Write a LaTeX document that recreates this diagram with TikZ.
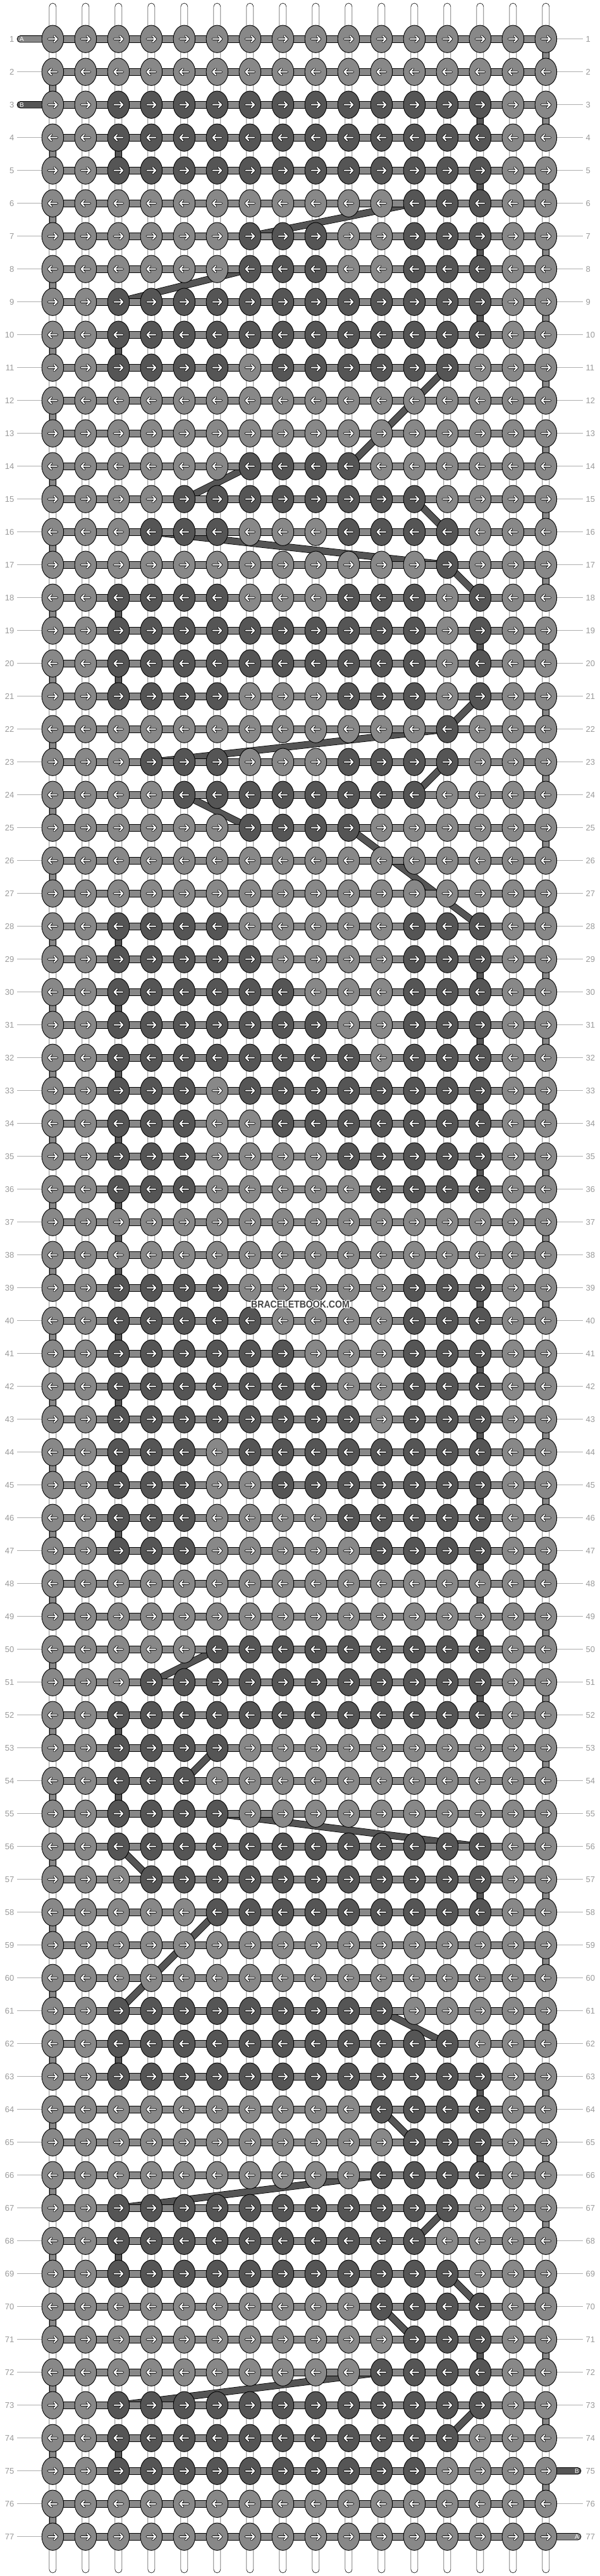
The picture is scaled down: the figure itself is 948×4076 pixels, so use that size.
\documentclass[tikz,border=0pt]{standalone}
\usepackage{fontspec}
\setmainfont{Liberation Sans}
\usetikzlibrary{shapes.geometric}
\definecolor{kl}{HTML}{888888}
\definecolor{kd}{HTML}{555555}
\definecolor{labc}{HTML}{9A9A9A}
\definecolor{wmc}{HTML}{444444}
\begin{document}
\begin{tikzpicture}[x=1pt,y=-1pt,
  vstring/.style={draw=black, line width=0.6pt, fill=white, rounded corners=5.5pt},
  rowbar/.style={draw=black, line width=0.8pt, fill=kl},
  knot/.style={ellipse, draw=black, line width=0.9pt, minimum width=34.5pt, minimum height=43.3pt, inner sep=0pt},
  acon/.style={draw=black, line width=0.8pt, double=kl, double distance=9.6pt},
  bcon/.style={draw=black, line width=0.8pt, double=kd, double distance=9.6pt},
  arrout/.style={draw=black, line width=3.8pt, line cap=round, line join=round},
  arrin/.style={draw=white, line width=2pt, line cap=round, line join=round},
  rowlab/.style={text=labc, font=\fontsize{13}{13}\selectfont, inner sep=0pt},
  labline/.style={draw=labc!80, line width=1pt},
  taillet/.style={text=white, font=\fontsize{10}{10}\selectfont, inner sep=0pt},
  wm/.style={font=\bfseries\fontsize{16}{16}\selectfont, inner sep=0pt}]
\fill[white] (0,0) rectangle (948,4076);
\useasboundingbox (0,0) rectangle (948,4076);
% grid coordinates
\foreach \r in {1,...,77}{\foreach \c in {1,...,16}{\coordinate (p-\r-\c) at ({31.4+52*\c},{9.7+52*\r});}}
% dark knots
\foreach \r/\a/\b in {3/3/14, 4/3/14, 5/3/14, 6/12/14, 7/7/9, 7/12/14, 8/7/9, 8/12/14, 9/3/14, 10/3/14, 11/3/6, 11/8/13, 14/7/10, 15/5/12, 16/4/6, 16/10/13, 17/13/13, 18/3/6, 18/10/12, 18/14/14, 19/3/12, 19/14/14, 20/3/12, 20/14/14, 21/3/6, 21/10/12, 21/14/14, 22/13/13, 23/4/6, 23/10/13, 24/5/12, 25/7/10, 28/3/6, 28/12/14, 29/3/7, 29/12/14, 30/3/8, 30/12/14, 31/3/9, 31/12/14, 32/3/10, 32/12/14, 33/3/5, 33/7/14, 34/3/5, 34/8/14, 35/3/5, 35/10/14, 36/3/5, 36/11/14, 39/3/6, 39/12/14, 40/3/7, 40/12/14, 41/3/8, 41/12/14, 42/3/9, 42/12/14, 43/3/10, 43/12/14, 44/3/5, 44/7/14, 45/3/5, 45/8/14, 46/3/5, 46/10/14, 47/3/5, 47/11/14, 50/6/14, 51/4/14, 52/3/14, 53/3/6, 54/3/5, 55/3/6, 56/3/14, 57/4/14, 58/6/14, 61/3/11, 62/3/13, 63/3/14, 64/11/14, 65/12/14, 66/11/14, 67/3/13, 68/3/12, 69/3/13, 70/11/14, 71/12/14, 72/11/14, 73/3/14, 74/3/13, 75/3/12}{
  \foreach \c in {\a,...,\b}{\expandafter\gdef\csname dk-\r-\c\endcsname{}}}
% vertical strings
\foreach \c in {1,...,16}{\draw[vstring] ({31.4+52*\c-5.5},5) rectangle ({31.4+52*\c+5.5},4071);}
% string A connectors at the edges
\foreach \r in {1,...,76}{
  \ifodd\r\relax\def\cc{16}\else\def\cc{1}\fi
  \pgfmathtruncatemacro\rn{\r+1}
  \draw[acon] (p-\r-\cc) -- (p-\rn-\cc);}
% string B connectors
\foreach \ra/\ca/\rb/\cb in {3/14/4/14, 4/3/5/3, 5/14/6/14, 6/12/7/7, 7/14/8/14, 8/7/9/3, 9/14/10/14, 10/3/11/3, 11/13/14/10, 14/7/15/5, 15/12/16/13, 16/4/17/13, 17/13/18/14, 18/3/19/3, 19/14/20/14, 20/3/21/3, 21/14/22/13, 22/13/23/4, 23/13/24/12, 24/5/25/7, 25/10/28/14, 28/3/29/3, 29/14/30/14, 30/3/31/3, 31/14/32/14, 32/3/33/3, 33/14/34/14, 34/3/35/3, 35/14/36/14, 36/3/39/3, 39/14/40/14, 40/3/41/3, 41/14/42/14, 42/3/43/3, 43/14/44/14, 44/3/45/3, 45/14/46/14, 46/3/47/3, 47/14/50/14, 50/6/51/4, 51/14/52/14, 52/3/53/3, 53/6/54/5, 54/3/55/3, 55/6/56/14, 56/3/57/4, 57/14/58/14, 58/6/61/3, 61/11/62/13, 62/3/63/3, 63/14/64/14, 64/11/65/12, 65/14/66/14, 66/11/67/3, 67/13/68/12, 68/3/69/3, 69/13/70/14, 70/11/71/12, 71/14/72/14, 72/11/73/3, 73/14/74/13, 74/3/75/3}{
  \draw[bcon] (p-\ra-\ca) -- (p-\rb-\cb);}
% row labels and label lines
\foreach \r in {1,...,77}{
  \pgfmathsetmacro\yy{9.7+52*\r}
  \node[rowlab, anchor=east] (ll-\r) at (22.5,\yy) {\r};
  \node[rowlab, anchor=west] (lr-\r) at (926.5,\yy) {\r};
  \ifnum\r=1\relax\else\ifnum\r=3\relax\else\draw[labline] (27,\yy) -- (p-\r-1);\fi\fi
  \ifnum\r=75\relax\else\ifnum\r=77\relax\else\draw[labline] (p-\r-16) -- (922,\yy);\fi\fi
  \draw[rowbar] ([yshift=5.3pt]p-\r-1) rectangle ([yshift=-5.3pt]p-\r-16);}
% tails
\coordinate (tA) at (27,61.7);
\coordinate (tB) at (27,165.7);
\coordinate (tBe) at (919,3909.7);
\coordinate (tAe) at (919,4013.7);
\draw[rowbar, rounded corners=5.3pt] ([yshift=5.3pt]tA) rectangle ([yshift=-5.3pt]p-1-1);
\draw[rowbar, fill=kd, rounded corners=5.3pt] ([yshift=5.3pt]tB) rectangle ([yshift=-5.3pt]p-3-1);
\draw[rowbar, fill=kd, rounded corners=5.3pt] ([yshift=5.3pt]p-75-16) rectangle ([yshift=-5.3pt]tBe);
\draw[rowbar, rounded corners=5.3pt] ([yshift=5.3pt]p-77-16) rectangle ([yshift=-5.3pt]tAe);
\node[taillet] (la1) at (34.5,61.7) {A};
\node[taillet] (lb1) at (34.5,165.7) {B};
\node[taillet] (lb2) at (912.5,3909.7) {B};
\node[taillet] (la2) at (912.5,4013.7) {A};
% knots
\foreach \r in {1,...,77}{
  \ifodd\r\relax\def\dir{1}\else\def\dir{-1}\fi
  \foreach \c in {1,...,16}{
    \ifcsname dk-\r-\c\endcsname\def\kc{kd}\else\def\kc{kl}\fi
    \node[knot, fill=\kc] (k-\r-\c) at (p-\r-\c) {};
    \begin{scope}[shift={(p-\r-\c)}, xscale=\dir]
      \draw[arrout] (-6.8,0) -- (6.8,0) (2.2,-4.6) -- (6.8,0) -- (2.2,4.6);
      \draw[arrin] (-6.8,0) -- (6.8,0) (2.2,-4.6) -- (6.8,0) -- (2.2,4.6);
    \end{scope}
  }}
% watermark
\foreach \dx/\dy in {-1.3/0, 1.3/0, 0/-1.3, 0/1.3, -1/-1, 1/1, -1/1, 1/-1}{
  \node[wm, text=white] at (475+\dx,2064+\dy) {\scalebox{0.88}[1]{BRACELETBOOK.COM}};}
\node[wm, text=wmc] (wmark) at (475,2064) {\scalebox{0.88}[1]{BRACELETBOOK.COM}};
\end{tikzpicture}
\end{document}
